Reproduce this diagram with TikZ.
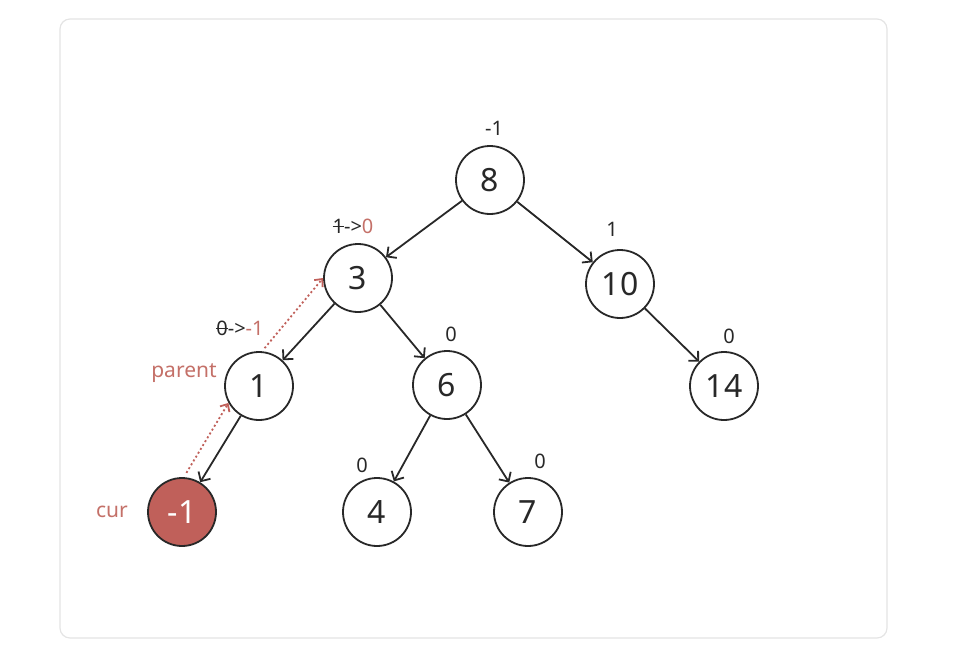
\documentclass[tikz,border=0pt]{standalone}
\usepackage{fontspec}
\setmainfont{Noto Sans}
\usetikzlibrary{arrows.meta,positioning}
\definecolor{curred}{RGB}{192,96,90}
\definecolor{txtred}{RGB}{196,112,104}
\definecolor{framegray}{RGB}{228,228,228}
\definecolor{inkgray}{RGB}{40,40,40}
\newcommand\struck[1]{\setbox0\hbox{#1}\rlap{\rule[0.3em]{\wd0}{1pt}}\box0}

\tikzset{
  treenode/.style={circle, draw=inkgray, line width=1.8pt, minimum size=68pt, inner sep=0pt,
    font=\fontsize{32}{32}\selectfont, text=inkgray},
  curnode/.style={treenode, fill=curred, text=white},
  bal/.style={font=\fontsize{20}{20}\selectfont, text=inkgray, inner sep=1pt},
  tag/.style={font=\fontsize{21}{21}\selectfont, text=txtred, inner sep=1pt},
  edge/.style={-{Straight Barb[length=7pt,width=14pt]}, line width=1.8pt, inkgray},
  trace/.style={-{Straight Barb[length=6pt,width=11pt]}, dash pattern=on 2pt off 2.5pt, line width=1.8pt, curred}
}

\begin{document}
\begin{tikzpicture}[x=1pt,y=-1pt]
\useasboundingbox (0,0) rectangle (970,653);
\draw[framegray, line width=1.2pt, rounded corners=10pt] (60,19) rectangle (887,638);

% tree nodes
\node[treenode] (n8) at (490,180) {8};
\node[treenode] (n3) at (358,278) {3};
\node[treenode] (n10) at (620,284) {10};
\node[treenode] (n1) at (259,386) {1};
\node[treenode] (n6) at (447,385) {6};
\node[treenode] (n14) at (724,386) {14};
\node[curnode] (cur) at (182,512) {-1};
\node[treenode] (n4) at (377,512) {4};
\node[treenode] (n7) at (528,512) {7};

% balance factors
\node[bal] (b8) at (494,128) {-1};
\node[bal] (b3) at (353,226) {\struck{1}->\textcolor{txtred}{0}};
\node[bal] (b10) at (612,229) {1};
\node[bal] (b1) at (240,328) {\struck{0}->\textcolor{txtred}{-1}};
\node[bal] (b6) at (451,334) {0};
\node[bal] (b14) at (729,336) {0};
\node[bal] (b4) at (362,465) {0};
\node[bal] (b7) at (540,461) {0};

% pointers
\node[tag] (parentlab) at (184,373) {parent};
\node[tag] (curlab) at (112,512) {cur};

% edges
\draw[edge] (n8) -- (n3);
\draw[edge] (n8) -- (n10);
\draw[edge] (n3) -- (n1);
\draw[edge] (n3) -- (n6);
\draw[edge] (n10) -- (n14);
\draw[edge] (n1) -- (cur);
\draw[edge] (n6) -- (n4);
\draw[edge] (n6) -- (n7);

% walk back up
\draw[trace, shorten <=5pt] (cur.87) -- (n1.209);
\draw[trace, shorten <=4pt] (n1.85) -- (n3.180);
\end{tikzpicture}
\end{document}
